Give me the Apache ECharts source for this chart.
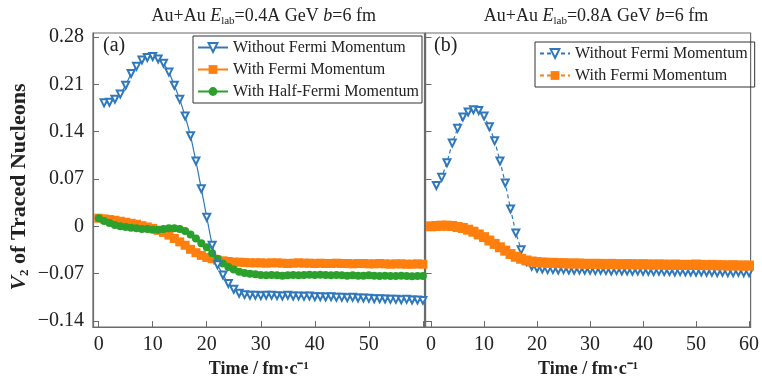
<!DOCTYPE html>
<html>
<head>
<meta charset="utf-8">
<script src="https://cdn.jsdelivr.net/npm/echarts@6/dist/echarts.min.js"></script>
<style>
  html, body { margin: 0; padding: 0; background: #fff; }
  #chart { width: 762px; height: 383px; }
</style>
</head>
<body>
<div id="chart"></div>
<script>
// 刻度
var xTicks = [0, 10, 20, 30, 40, 50, 60];
var xLabelsA = [0, 10, 20, 30, 40, 50];
var yTicks = [-0.14, -0.07, 0, 0.07, 0.14, 0.21, 0.28];

// (a) 0.4A GeV
var startBlueA = 1;
var blueA = [
    0.1825, 0.1835, 0.188, 0.1955, 0.2085, 0.226, 0.2365, 0.246, 0.2495, 0.251,
    0.2475, 0.241, 0.228, 0.2085, 0.188, 0.163, 0.134, 0.0965, 0.0555, 0.0135,
    -0.028, -0.057, -0.072, -0.0845, -0.093, -0.099, -0.101, -0.102, -0.102, -0.1025,
    -0.102, -0.102, -0.1025, -0.103, -0.102, -0.103, -0.103, -0.1035, -0.103, -0.104,
    -0.104, -0.1045, -0.104, -0.105, -0.105, -0.1055, -0.105, -0.106, -0.106, -0.1065,
    -0.107, -0.107, -0.1075, -0.108, -0.108, -0.1085, -0.108, -0.109, -0.109, -0.1095
];
var startOrangeA = 0;
var orangeA = [
    0.012, 0.011, 0.010, 0.009, 0.0075, 0.006, 0.0045, 0.003, 0.001, -0.001,
    -0.003, -0.006, -0.009, -0.013, -0.018, -0.023, -0.028, -0.034, -0.039, -0.043,
    -0.046, -0.048, -0.050, -0.051, -0.052, -0.053, -0.053, -0.0535, -0.054, -0.054,
    -0.054, -0.0545, -0.054, -0.054, -0.0545, -0.055, -0.0545, -0.054, -0.0545, -0.0545,
    -0.055, -0.0545, -0.055, -0.055, -0.0545, -0.055, -0.055, -0.0555, -0.055, -0.055,
    -0.0555, -0.0555, -0.055, -0.0555, -0.056, -0.0555, -0.0555, -0.056, -0.056, -0.0555,
    -0.056
];
var startGreenA = 0;
var greenA = [
    0.012, 0.008, 0.005, 0.002, 0.0, -0.001, -0.002, -0.003, -0.004, -0.004,
    -0.005, -0.005, -0.004, -0.003, -0.003, -0.004, -0.007, -0.012, -0.018, -0.025,
    -0.031, -0.040, -0.048, -0.055, -0.060, -0.064, -0.067, -0.069, -0.070, -0.071,
    -0.072, -0.0725, -0.072, -0.0725, -0.073, -0.0725, -0.072, -0.0725, -0.072, -0.0715,
    -0.072, -0.0715, -0.072, -0.0725, -0.072, -0.0725, -0.073, -0.0725, -0.073, -0.073,
    -0.0725, -0.073, -0.0735, -0.073, -0.0735, -0.0735, -0.073, -0.0735, -0.074, -0.0735,
    -0.0735
];

// (b) 0.8A GeV
var startBlueB = 1;
var blueB = [
    0.0604, 0.0724, 0.094, 0.123, 0.1448, 0.1617, 0.169, 0.1723, 0.1713, 0.163,
    0.1473, 0.1265, 0.0966, 0.064, 0.0256, -0.0097, -0.0348, -0.052, -0.059, -0.062,
    -0.063, -0.064, -0.064, -0.0645, -0.064, -0.0645, -0.065, -0.0645, -0.065, -0.065,
    -0.0655, -0.065, -0.0655, -0.066, -0.0655, -0.066, -0.066, -0.0665, -0.066, -0.0665,
    -0.0665, -0.067, -0.0665, -0.067, -0.067, -0.0675, -0.067, -0.0675, -0.0675, -0.068,
    -0.0675, -0.068, -0.068, -0.0685, -0.068, -0.0685, -0.0685, -0.068, -0.0685, -0.0685
];
var startOrangeB = 0;
var orangeB = [
    0.0, 0.0005, 0.001, 0.001, 0.0005, -0.001, -0.0025, -0.005, -0.008, -0.012,
    -0.016, -0.021, -0.026, -0.031, -0.036, -0.041, -0.045, -0.048, -0.0505, -0.052,
    -0.053, -0.0535, -0.054, -0.054, -0.0545, -0.0545, -0.055, -0.055, -0.055, -0.0555,
    -0.0555, -0.0555, -0.0555, -0.056, -0.0555, -0.056, -0.056, -0.056, -0.056, -0.0565,
    -0.056, -0.0565, -0.0565, -0.0565, -0.0565, -0.057, -0.0565, -0.057, -0.057, -0.057,
    -0.0565, -0.057, -0.0575, -0.057, -0.0575, -0.0575, -0.058, -0.0575, -0.058, -0.058,
    -0.058
];

var SERIF = "'Liberation Serif', 'Times New Roman', serif";
var BLUE = '#2f78be', ORANGE = '#ff7f0e', GREEN = '#2ca02c';
var AXIS = '#6b6b6b';

function pairs(start, arr) {
    return arr.map(function (v, i) { return [start + i, v]; });
}

function fmtY(v) {
    if (Math.abs(v) < 1e-9) return '0';
    return v.toFixed(2).replace('-', '\u2212');
}

function makeX(idx, labels) {
    return {
        type: 'value', gridIndex: idx, min: -1.05, max: 60.3,
        axisLine: { show: true, onZero: false, lineStyle: { color: AXIS, width: 1.2 } },
        axisTick: { show: true, inside: true, length: 6, customValues: xTicks, lineStyle: { color: AXIS } },
        axisLabel: { customValues: labels, margin: 8, fontFamily: SERIF, fontSize: 20, color: '#222' },
        splitLine: { show: false },
        name: 'Time / fm\u00b7c\u207b\u00b9', nameLocation: 'middle', nameGap: 31,
        nameTextStyle: { fontFamily: SERIF, fontSize: 18, fontWeight: 'bold', color: '#222' }
    };
}

function makeY(idx, showLabel) {
    var y = {
        type: 'value', gridIndex: idx, min: -0.149, max: 0.2858,
        axisLine: { show: true, onZero: false, lineStyle: { color: AXIS, width: 1.2 } },
        axisTick: { show: true, inside: true, length: 6, customValues: yTicks, lineStyle: { color: AXIS } },
        axisLabel: { show: showLabel, customValues: yTicks, margin: 9, formatter: fmtY,
            fontFamily: SERIF, fontSize: 20, color: '#222' },
        splitLine: { show: false }
    };
    if (showLabel) {
        y.name = '{v|V}{s|2}{b| of Traced Nucleons}';
        y.nameLocation = 'middle';
        y.nameRotate = 90;
        y.nameGap = 62;
        y.nameTextStyle = {
            padding: [0, 14, 0, 0],
            rich: {
                v: { fontFamily: SERIF, fontSize: 22, fontWeight: 'bold', fontStyle: 'italic', color: '#222', lineHeight: 24 },
                s: { fontFamily: SERIF, fontSize: 13, fontWeight: 'bold', color: '#222', verticalAlign: 'bottom', lineHeight: 13 },
                b: { fontFamily: SERIF, fontSize: 22, fontWeight: 'bold', color: '#222', lineHeight: 24 }
            }
        };
    }
    return y;
}

var titleRich = {
    n: { fontFamily: SERIF, fontSize: 18, fontWeight: 'normal', color: '#222', lineHeight: 22 },
    i: { fontFamily: SERIF, fontSize: 18, fontWeight: 'normal', fontStyle: 'italic', color: '#222', lineHeight: 22 },
    s: { fontFamily: SERIF, fontSize: 11, fontWeight: 'normal', color: '#222', verticalAlign: 'bottom', lineHeight: 11 }
};

var legendText = { fontFamily: SERIF, fontSize: 16, color: '#222', lineHeight: 17 };

var chart = echarts.init(document.getElementById('chart'), null, { renderer: 'canvas' });

var option = {
    animation: false,
    title: [
        { text: '{n|Au+Au }{i|E}{s|lab}{n|=0.4A GeV }{i|b}{n|=6 fm}', left: 258.7, top: 0, textAlign: 'center',
          textStyle: { fontWeight: 'normal', rich: titleRich } },
        { text: '{n|Au+Au }{i|E}{s|lab}{n|=0.8A GeV }{i|b}{n|=6 fm}', left: 591, top: 0, textAlign: 'center',
          textStyle: { fontWeight: 'normal', rich: titleRich } }
    ],
    grid: [
        { left: 93, top: 33, width: 331.5, height: 300, show: true, borderColor: AXIS, borderWidth: 1.2, backgroundColor: 'transparent' },
        { left: 425.5, top: 33, width: 331, height: 300, show: true, borderColor: AXIS, borderWidth: 1.2, backgroundColor: 'transparent' }
    ],
    xAxis: [makeX(0, xLabelsA), makeX(1, xTicks)],
    yAxis: [makeY(0, true), makeY(1, false)],
    legend: [
        {
            orient: 'vertical', left: 193, top: 36, itemGap: 5, itemWidth: 30, itemHeight: 11,
            padding: [3, 3, 3, 4], borderColor: '#333', borderWidth: 1, textStyle: legendText,
            data: ['Without Fermi Momentum', 'With Fermi Momentum', 'With Half-Fermi Momentum']
        },
        {
            orient: 'vertical', left: 535, top: 42, itemGap: 5, itemWidth: 30, itemHeight: 11,
            padding: [3, 3, 3, 4], borderColor: '#333', borderWidth: 1, textStyle: legendText,
            data: ['Without Fermi Momentum ', 'With Fermi Momentum ']
        }
    ],
    graphic: [
        { type: 'text', left: 103, top: 36, style: { text: '(a)', font: '20px ' + SERIF, fill: '#222' } },
        { type: 'text', left: 434, top: 36, style: { text: '(b)', font: '20px ' + SERIF, fill: '#222' } }
    ],
    series: [
        {
            name: 'With Fermi Momentum', type: 'line', xAxisIndex: 0, yAxisIndex: 0,
            data: pairs(startOrangeA, orangeA), symbol: 'rect', symbolSize: 9, showAllSymbol: true,
            color: ORANGE, lineStyle: { color: ORANGE, width: 1.3 }, z: 2
        },
        {
            name: 'With Half-Fermi Momentum', type: 'line', xAxisIndex: 0, yAxisIndex: 0,
            data: pairs(startGreenA, greenA), symbol: 'circle', symbolSize: 8, showAllSymbol: true,
            color: GREEN, lineStyle: { color: GREEN, width: 1.3 }, z: 3
        },
        {
            name: 'Without Fermi Momentum', type: 'line', xAxisIndex: 0, yAxisIndex: 0,
            data: pairs(startBlueA, blueA), symbol: 'emptyTriangle', symbolRotate: 180, symbolSize: 7,
            showAllSymbol: true, color: BLUE, lineStyle: { color: BLUE, width: 1.2 }, z: 4
        },
        {
            name: 'Without Fermi Momentum ', type: 'line', xAxisIndex: 1, yAxisIndex: 1,
            data: pairs(startBlueB, blueB), symbol: 'emptyTriangle', symbolRotate: 180, symbolSize: 7,
            showAllSymbol: true, color: BLUE, lineStyle: { color: BLUE, width: 1.2, type: [4, 3] }, z: 2
        },
        {
            name: 'With Fermi Momentum ', type: 'line', xAxisIndex: 1, yAxisIndex: 1,
            data: pairs(startOrangeB, orangeB), symbol: 'rect', symbolSize: 10, showAllSymbol: true,
            color: ORANGE, lineStyle: { color: ORANGE, width: 1.3, type: [4, 3] }, z: 3
        }
    ]
};
chart.setOption(option);
</script>
</body>
</html>
